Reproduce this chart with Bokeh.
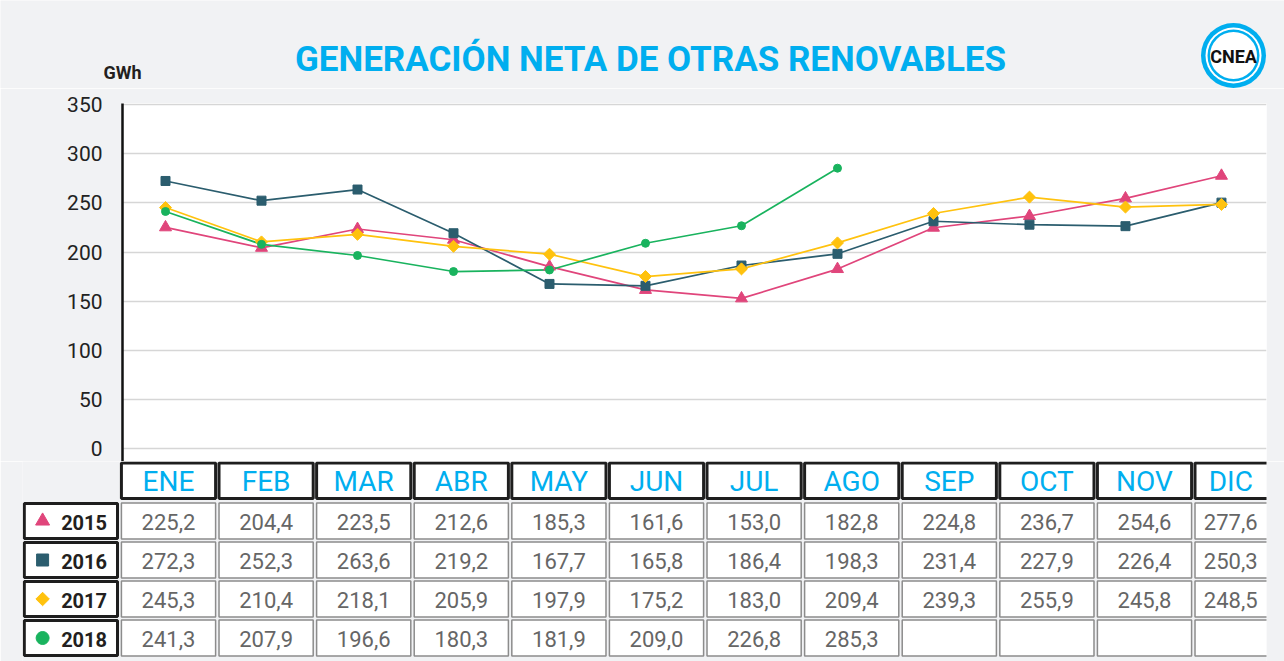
import numpy as np
from bokeh.plotting import figure
from bokeh.layouts import column
from bokeh.models import Range1d, FixedTicker
from bokeh.core.properties import value
from bokeh.embed import file_html
from bokeh.resources import INLINE

# ---------------- data ----------------
months = ["ENE", "FEB", "MAR", "ABR", "MAY", "JUN", "JUL", "AGO", "SEP", "OCT", "NOV", "DIC"]
years = ["2015", "2016", "2017", "2018"]
v2015 = [225.2, 204.4, 223.5, 212.6, 185.3, 161.6, 153.0, 182.8, 224.8, 236.7, 254.6, 277.6]
v2016 = [272.3, 252.3, 263.6, 219.2, 167.7, 165.8, 186.4, 198.3, 231.4, 227.9, 226.4, 250.3]
v2017 = [245.3, 210.4, 218.1, 205.9, 197.9, 175.2, 183.0, 209.4, 239.3, 255.9, 245.8, 248.5]
v2018 = [241.3, 207.9, 196.6, 180.3, 181.9, 209.0, 226.8, 285.3]
y_ticks = [0, 50, 100, 150, 200, 250, 300, 350]
title_text = "GENERACIÓN NETA DE OTRAS RENOVABLES"
unit_text = "GWh"
logo_text = "CNEA"

series = [v2015, v2016, v2017, v2018]

# ---------------- styles ----------------
BG = "#f1f2f4"
BLUE = "#00aeef"
FONT = value("Roboto")
W = 1284
styles = [
    dict(color="#e0457b", marker="triangle", size=12, angle=0.0, lsize=14),
    dict(color="#2b5d6e", marker="square", size=9, angle=0.0, lsize=12),
    dict(color="#ffc20e", marker="square", size=8.5, angle=np.pi / 4, lsize=9.5),
    dict(color="#19b35e", marker="circle", size=8, angle=0.0, lsize=13),
]


def base(fig):
    fig.background_fill_color = BG
    fig.border_fill_color = BG
    fig.outline_line_color = None
    fig.grid.visible = False
    return fig


# ---------------- header (title + logo) ----------------
TOP_H = 88
top = figure(width=W, height=TOP_H, x_range=Range1d(0, W), y_range=Range1d(TOP_H, 0),
             x_axis_location=None, y_axis_location=None, min_border=0, frame_align=False,
             output_backend="svg", toolbar_location=None)
base(top)
top.text(x=[650], y=[59], text=[title_text], text_font=FONT, text_font_style="bold",
         text_font_size="35px", text_color=BLUE, text_align="center",
         text_baseline="alphabetic")
top.text(x=[103], y=[72], text=[unit_text], text_font=FONT, text_font_style="bold",
         text_font_size="18px", text_color="#231f20", text_align="left",
         text_baseline="alphabetic")
lx, ly = 1233, 55
for r, c in [(32.5, BLUE), (28, "white"), (26, BLUE), (23.5, "white")]:
    top.circle(x=[lx], y=[ly], radius=r, fill_color=c, line_color=None)
top.text(x=[lx], y=[ly + 1], text=[logo_text], text_font=FONT, text_font_style="bold",
         text_font_size="18px", text_color="#111111", text_align="center",
         text_baseline="middle")

# ---------------- chart ----------------
ch = figure(width=W, height=373, x_range=Range1d(-0.448, 11.469), y_range=Range1d(-12.7, 351.02),
            x_axis_location=None, min_border_left=122, min_border_right=18,
            min_border_top=15, min_border_bottom=0, frame_align=False,
            output_backend="svg", toolbar_location=None)
ch.background_fill_color = "white"
ch.border_fill_color = BG
ch.outline_line_color = None
ch.xgrid.visible = False
ch.ygrid.grid_line_color = "#d6d6d6"
ch.ygrid.grid_line_width = 1.5
ch.yaxis.ticker = FixedTicker(ticks=y_ticks)
ch.yaxis.major_label_text_font = "Roboto"
ch.yaxis.major_label_text_font_size = "21px"
ch.yaxis.major_label_text_color = "#222222"
ch.yaxis.major_label_standoff = 14
ch.yaxis.major_tick_line_color = None
ch.yaxis.minor_tick_line_color = None
ch.yaxis.axis_line_color = "#111111"
ch.yaxis.axis_line_width = 2.5

for vals, st in zip(series, styles):
    xs = list(range(len(vals)))
    ch.line(xs, vals, line_color=st["color"], line_width=1.7)
for vals, st in zip(series, styles):
    xs = list(range(len(vals)))
    ch.scatter(xs, vals, marker=st["marker"], size=st["size"], angle=st["angle"],
               fill_color=st["color"], line_color=st["color"])

# ---------------- table ----------------
TB_H = 200
x_end = 11.25
tb = figure(width=W, height=TB_H, x_range=Range1d(-1.496, x_end), y_range=Range1d(TB_H, 0),
            x_axis_location=None, y_axis_location=None, min_border_left=22,
            min_border_right=18, min_border_top=0, min_border_bottom=0, frame_align=False,
            output_backend="svg", toolbar_location=None)
base(tb)

n = len(months)
cw = 0.965
mx = list(range(n))
tx = [(i - cw / 2 + min(i + cw / 2, x_end)) / 2 for i in mx]

# month header
tb.rect(x=mx, y=[19.25] * n, width=cw, height=35.5, fill_color="white",
        line_color="#1e1e1e", line_width=3)
tb.text(x=tx, y=[20] * n, text=months, text_font=FONT, text_font_size="28px",
        text_color=BLUE, text_align="center", text_baseline="middle")

# data rows
RH = 39
for r, (yr, vals, st) in enumerate(zip(years, series, styles)):
    yc = 40 + RH * r + RH / 2
    tb.rect(x=[-1], y=[yc], width=0.955, height=RH - 4, fill_color="white",
            line_color="#1e1e1e", line_width=3)
    tb.scatter(x=[-1.29], y=[yc], marker=st["marker"], size=st["lsize"], angle=st["angle"],
               fill_color=st["color"], line_color=st["color"])
    tb.text(x=[-1.10], y=[yc + 1], text=[yr], text_font=FONT, text_font_style="bold",
            text_font_size="20px", text_color="#231f20", text_align="left",
            text_baseline="middle")
    tb.rect(x=mx, y=[yc] * n, width=cw, height=RH - 3, fill_color="white",
            line_color="#8c8c8c", line_width=1.5)
    labels = [f"{v:.1f}".replace(".", ",") for v in vals]
    tb.text(x=tx[:len(vals)], y=[yc + 1] * len(vals), text=labels, text_font=FONT,
            text_font_size="22px", text_color="#666666", text_align="center",
            text_baseline="middle")

layout = column(top, ch, tb, spacing=0)
html = file_html(layout, INLINE, title="Generación neta de otras renovables")
html = html.replace("<body>", f'<body style="background-color:{BG};">', 1)
open("out.html", "w").write(html)
